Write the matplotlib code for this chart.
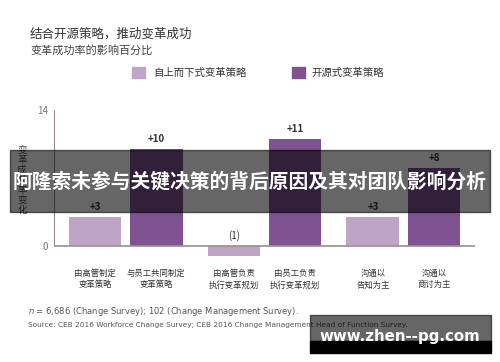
import matplotlib.pyplot as plt
import numpy as np
from matplotlib.patches import Rectangle

plt.rcParams['font.family'] = ['Noto Sans CJK SC', 'DejaVu Sans']

# data
groups = ['制定', '执行', '沟通']
top_down = [3, -1, 3]
open_src = [10, 11, 8]
top_down_lbl = ['+3', '(1)', '+3']
open_src_lbl = ['+10', '+11', '+8']
cat_labels = ['由高管制定\n变革策略', '与员工共同制定\n变革策略',
              '由高管负责\n执行变革规划', '由员工负责\n执行变革规划',
              '沟通以\n告知为主', '沟通以\n商讨为主']

light = '#bea4c7'
dark = '#7f5291'
txt = '#333333'

fig = plt.figure(figsize=(5, 3.62), dpi=100)
ax = fig.add_axes([0.108, 0.2669, 0.842, 0.4425])

x = np.arange(len(groups))
off = 0.22
w = 0.38
ax.bar(x - off, top_down, w, color=light)
ax.bar(x + off, open_src, w, color=dark)

for xi, v, l in zip(x - off, top_down, top_down_lbl):
    ax.text(xi, max(v, 0) + 0.5, l, ha='center', va='bottom', fontsize=7,
            color=txt, fontweight='bold' if v > 0 else 'normal')
for xi, v, l in zip(x + off, open_src, open_src_lbl):
    ax.text(xi, v + 0.5, l, ha='center', va='bottom', fontsize=7,
            color=txt, fontweight='bold')

ax.set_xlim(-0.515, 2.515)
ax.set_ylim(-2, 14.5)
for s in ['top', 'right', 'bottom']:
    ax.spines[s].set_visible(False)
ax.spines['left'].set_bounds(0, 14)
ax.spines['left'].set_color('#9a8f8c')
ax.axhline(0, color='#9a8f8c', lw=1.2)
ax.set_yticks([0, 14])
ax.set_yticklabels(['0', '14'])
ax.tick_params(axis='y', length=0, pad=4, labelsize=7, labelcolor='#777777')
ax.set_xticks([])

# category labels under each bar
pos = np.ravel(np.column_stack([x - off, x + off]))
for p, l in zip(pos, cat_labels):
    ax.annotate(l, xy=(p, 0), xycoords='data',
                xytext=(0, -24), textcoords='offset points',
                ha='center', va='center', fontsize=6, color=txt, linespacing=1.3)

# titles
fig.text(0.06, 1 - 34 / 362, '结合开源策略，推动变革成功', fontsize=9, color=txt,
         va='center', ha='left')
fig.text(0.06, 1 - 50 / 362, '变革成功率的影响百分比', fontsize=8, color='#444444',
         va='center', ha='left', style='italic')

# legend
fig.patches.append(Rectangle((132 / 500, 1 - 78 / 362), 13 / 500, 11 / 362,
                             transform=fig.transFigure, color=light))
fig.text(153 / 500, 1 - 73 / 362, '自上而下式变革策略', fontsize=7.5, color=txt, va='center')
fig.patches.append(Rectangle((292 / 500, 1 - 78 / 362), 13 / 500, 11 / 362,
                             transform=fig.transFigure, color=dark))
fig.text(311 / 500, 1 - 73 / 362, '开源式变革策略', fontsize=7.5, color=txt, va='center')

# y label, stacked characters
fig.text(22 / 500, 1 - 180 / 362, '\n'.join('变革成功率变化'), fontsize=7,
         color='#555555', ha='center', va='center', linespacing=1.0)

# footnotes
fig.text(28 / 500, 1 - 312 / 362,
         r'$n$ = 6,686 (Change Survey); 102 (Change Management Survey).',
         fontsize=6, color='#555555', va='center', family=['DejaVu Sans'])
fig.text(28 / 500, 1 - 325 / 362,
         'Source: CEB 2016 Workforce Change Survey; CEB 2016 Change Management Head of Function Survey.',
         fontsize=5.3, color='#555555', va='center', family=['DejaVu Sans'])

# overlay banner
fig.patches.append(Rectangle((10 / 500, 1 - 212 / 362), 480 / 500, 62 / 362,
                             transform=fig.transFigure, color='black', alpha=0.6, zorder=10))
fig.text(0.5, 1 - 182 / 362, '阿隆索未参与关键决策的背后原因及其对团队影响分析',
         fontsize=14.2, color='white', fontweight='bold', ha='center', va='center', zorder=11)

# watermark
fig.patches.append(Rectangle((310 / 500, 1 - 341 / 362), 181 / 500, 26 / 362,
                             transform=fig.transFigure, color='black', alpha=0.6, zorder=10))
fig.patches.append(Rectangle((310 / 500, 1 - 353 / 362), 181 / 500, 12 / 362,
                             transform=fig.transFigure, color='black', zorder=10))
fig.text(400 / 500, 1 - 337 / 362, 'www.zhen--pg.com', fontsize=10.8, color='white',
         fontweight='bold', ha='center', va='center', zorder=11, family=['DejaVu Sans'])

fig.savefig('out.png', dpi=100)
